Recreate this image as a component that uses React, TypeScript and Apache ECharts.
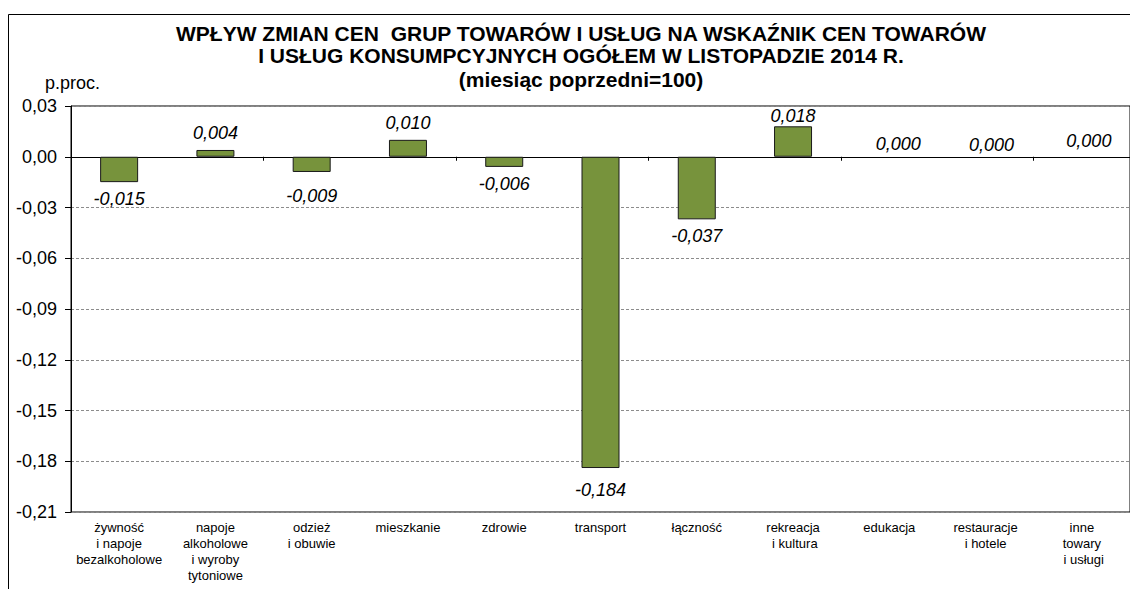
import React, { useEffect, useRef } from "react";
import * as echarts from "echarts";

const categories = [
  "żywność\ni napoje\nbezalkoholowe",
  "napoje\nalkoholowe\ni wyroby\ntytoniowe",
  "odzież\ni obuwie",
  "mieszkanie",
  "zdrowie",
  "transport",
  "łączność",
  "rekreacja\n i kultura",
  "edukacja",
  "restauracje\ni hotele",
  "inne\ntowary\n i usługi",
];
const values = [-0.015, 0.004, -0.009, 0.01, -0.006, -0.184, -0.037, 0.018, 0.0, 0.0, 0.0];
const yMin = -0.21;
const yMax = 0.03;
const yStep = 0.03;
const titleLines = [
  "WPŁYW ZMIAN CEN  GRUP TOWARÓW I USŁUG NA WSKAŹNIK CEN TOWARÓW",
  "I USŁUG KONSUMPCYJNYCH OGÓŁEM W LISTOPADZIE 2014 R.",
  "(miesiąc poprzedni=100)",
];
const unitLabel = "p.proc.";

const FONT = "'Liberation Sans', Arial, sans-serif";

// label placement nudges (style only), matching the original's label layout
const LABEL_NUDGE: Record<number, [number, number]> = {
  2: [0, 7],
  5: [0, 5],
  7: [0, 7],
  8: [9, 4],
  9: [6, 5],
  10: [7, 1],
};

export default function App() {
  const ref = useRef<HTMLDivElement>(null);
  useEffect(() => {
    if (!ref.current) return;
    const chart = echarts.init(ref.current, null, { renderer: "svg" });
    const titleY = [33.5, 55.5, 79.5];
    chart.setOption({
      animation: false,
      backgroundColor: "#fff",
      textStyle: { fontFamily: FONT },
      graphic: [
        {
          type: "rect",
          shape: { x: 8.5, y: 14.5, width: 1400, height: 800 },
          style: { fill: "none", stroke: "#000", lineWidth: 1 },
          silent: true,
        },
        ...titleLines.map((t, i) => ({
          type: "text",
          x: 581,
          y: titleY[i],
          style: {
            text: t,
            font: `bold 21px ${FONT}`,
            fill: "#000",
            textAlign: "center",
            textVerticalAlign: "middle",
          },
        })),
        {
          type: "text",
          x: 45,
          y: 83,
          style: {
            text: unitLabel,
            font: `18px ${FONT}`,
            fill: "#000",
            textAlign: "left",
            textVerticalAlign: "middle",
          },
        },
      ],
      grid: {
        left: 71,
        top: 106,
        height: 406,
        right: -7,
        show: true,
        borderColor: "#000",
        borderWidth: 1,
        containLabel: false,
      },
      xAxis: [
        {
          type: "category",
          data: categories,
          position: "bottom",
          axisLine: { show: false, onZero: false },
          axisTick: { show: false },
          axisLabel: {
            interval: 0,
            margin: 7,
            fontSize: 13,
            lineHeight: 16,
            color: "#000",
            fontFamily: FONT,
            align: "center",
          },
        },
        {
          type: "category",
          data: categories,
          position: "bottom",
          axisLine: { show: true, onZero: true, lineStyle: { color: "#000", width: 1 } },
          axisTick: { show: true, length: 4, lineStyle: { color: "#000" } },
          axisLabel: { show: false },
        },
      ],
      yAxis: {
        type: "value",
        min: yMin,
        max: yMax,
        interval: yStep,
        axisLine: { show: true, lineStyle: { color: "#000" } },
        axisTick: { show: true, length: 6, lineStyle: { color: "#000" } },
        axisLabel: {
          margin: 14,
          fontSize: 18,
          color: "#000",
          fontFamily: FONT,
          formatter: (v: number) => {
            const r = Math.round(v * 100) / 100;
            return (r === 0 ? 0 : r).toFixed(2).replace(".", ",");
          },
        },
        splitLine: {
          show: true,
          lineStyle: { color: "#8c8c8c", type: [3, 2], width: 1 },
        },
      },
      series: [
        {
          type: "bar",
          xAxisIndex: 0,
          barWidth: 38,
          itemStyle: { color: "#77933C", borderColor: "#1a1a1a", borderWidth: 1 },
          label: {
            show: true,
            fontSize: 18,
            fontStyle: "italic",
            color: "#000",
            fontFamily: FONT,
            distance: 8,
            formatter: (p: any) => Number(p.value).toFixed(3).replace(".", ","),
          },
          data: values.map((v, i) => ({
            value: v,
            itemStyle: v === 0 ? { borderWidth: 0, color: "transparent" } : undefined,
            label: {
              position: v < 0 ? "bottom" : "top",
              offset: LABEL_NUDGE[i] || [0, 0],
            },
          })),
        },
      ],
    });
    return () => chart.dispose();
  }, []);
  return (
    <div
      ref={ref}
      style={{ position: "fixed", left: 0, top: 0, width: 1130, height: 589 }}
    />
  );
}
